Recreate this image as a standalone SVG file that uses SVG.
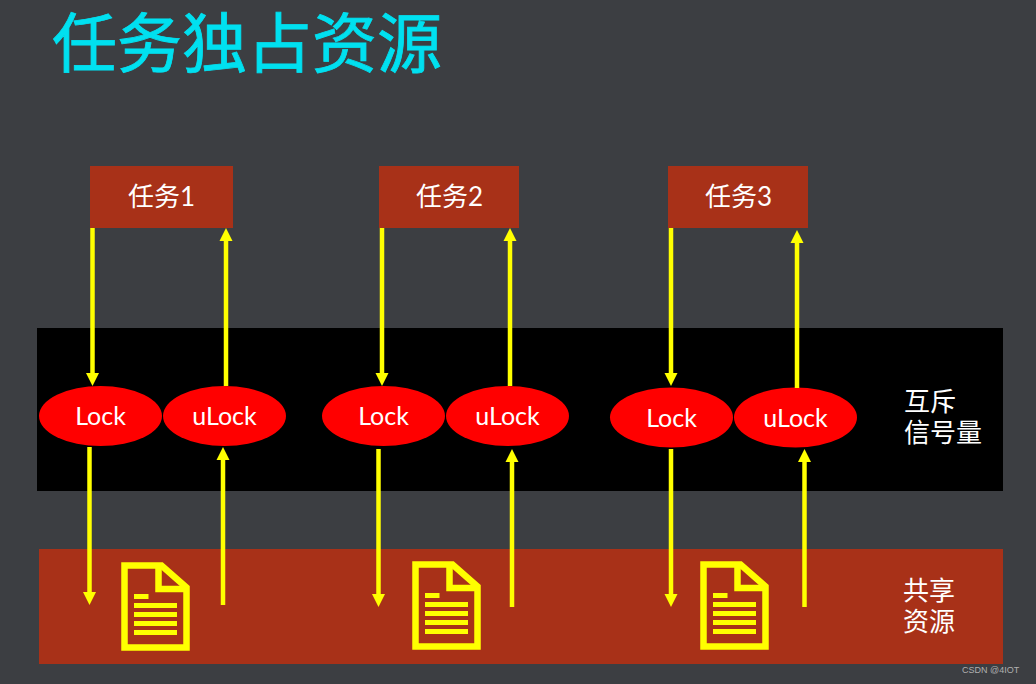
<svg xmlns="http://www.w3.org/2000/svg" xmlns:xlink="http://www.w3.org/1999/xlink" width="1036" height="684" viewBox="0 0 1036 684">
<style>
.cjk{font-family:"Noto Sans CJK SC","Lato",sans-serif;fill:#fff}
.lat{font-family:"Lato","Noto Sans",sans-serif;fill:#fff}
.task{fill:#a83118}
.oval{fill:#f00}
.a{stroke:#ff0;stroke-width:4.5;fill:none;marker-end:url(#ah)}
.doc{fill:none;stroke:#ff0;stroke-width:6.500}
.docl{stroke:#ff0;stroke-width:5;fill:none}
</style>
<defs>
<marker id="ah" markerUnits="userSpaceOnUse" markerWidth="14" markerHeight="14" refX="3" refY="7" orient="auto"><path d="M0,0.500L13,7L0,13.500Z" fill="#ff0"/></marker>
<g id="docicon">
<path class="doc" d="M124.500,565.500H161.500L186.500,587.500V647.500H124.500Z"/>
<path class="doc" d="M158.500,565.500V589H186.500"/>
<path class="docl" d="M134,596.500H148.500M134,605.500H177M134,614.500H177M134,623.500H177M134,632.500H177"/>
</g>
</defs>
<rect width="1036" height="684" fill="#3c3e42"/>
<text id="title" x="52" y="67" font-size="65" stroke="#00e0f0" stroke-width="0.800" style="font-family:'Noto Sans CJK SC',sans-serif;fill:#00e0f0">任务独占资源</text>
<g id="band-semaphore"><rect x="37" y="328" width="966" height="163" fill="#000"/>
<text class="cjk" font-size="26"><tspan x="904" y="411">互斥</tspan><tspan x="904" y="442">信号量</tspan></text></g>
<g id="band-resource"><rect x="39" y="549" width="964" height="115" fill="#a83118"/>
<text class="cjk" font-size="26"><tspan x="903" y="600">共享</tspan><tspan x="903" y="631">资源</tspan></text></g>
<g id="task1"><rect class="task" x="90" y="166" width="143" height="62"/><text x="161.500" y="206" text-anchor="middle" font-size="26" class="cjk">任务<tspan class="lat">1</tspan></text></g>
<g id="task2"><rect class="task" x="379" y="166" width="140" height="62"/><text x="449.500" y="206" text-anchor="middle" font-size="26" class="cjk">任务<tspan class="lat">2</tspan></text></g>
<g id="task3"><rect class="task" x="668" y="166" width="140" height="62"/><text x="738.500" y="206" text-anchor="middle" font-size="26" class="cjk">任务<tspan class="lat">3</tspan></text></g>
<g id="lock1"><ellipse class="oval" cx="100.500" cy="416" rx="61.500" ry="30"/><text class="lat" x="100.500" y="425" text-anchor="middle" font-size="25">Lock</text></g>
<g id="ulock1"><ellipse class="oval" cx="224.500" cy="416" rx="61.500" ry="30"/><text class="lat" x="224.500" y="425" text-anchor="middle" font-size="25">uLock</text></g>
<g id="lock2"><ellipse class="oval" cx="383.500" cy="416" rx="61.500" ry="30"/><text class="lat" x="383.500" y="425" text-anchor="middle" font-size="25">Lock</text></g>
<g id="ulock2"><ellipse class="oval" cx="507.500" cy="416" rx="61.500" ry="30"/><text class="lat" x="507.500" y="425" text-anchor="middle" font-size="25">uLock</text></g>
<g id="lock3"><ellipse class="oval" cx="671.500" cy="417.500" rx="61.500" ry="30"/><text class="lat" x="671.500" y="427" text-anchor="middle" font-size="25">Lock</text></g>
<g id="ulock3"><ellipse class="oval" cx="795.500" cy="417.500" rx="61.500" ry="30"/><text class="lat" x="795.500" y="427" text-anchor="middle" font-size="25">uLock</text></g>
<g id="doc1"><use xlink:href="#docicon" href="#docicon"/></g>
<g id="doc2"><use xlink:href="#docicon" href="#docicon" x="291" y="-1"/></g>
<g id="doc3"><use xlink:href="#docicon" href="#docicon" x="579" y="-1"/></g>
<g id="connectors">
<path class="a" d="M92.500,228V376"/><path class="a" d="M226,386V238"/><path class="a" d="M89.500,447V595"/><path class="a" d="M223,605V457"/>
<path class="a" d="M382,228V376"/><path class="a" d="M510,386V238"/><path class="a" d="M378.500,449V597"/><path class="a" d="M512,607V459"/>
<path class="a" d="M671,228V376"/><path class="a" d="M797,388V240"/><path class="a" d="M671,449V597"/><path class="a" d="M804.500,607V459"/>
</g>
<text x="962" y="673" font-size="9" style="font-family:'Liberation Sans',sans-serif;fill:#b0b0b0">CSDN @4IOT</text>
</svg>
